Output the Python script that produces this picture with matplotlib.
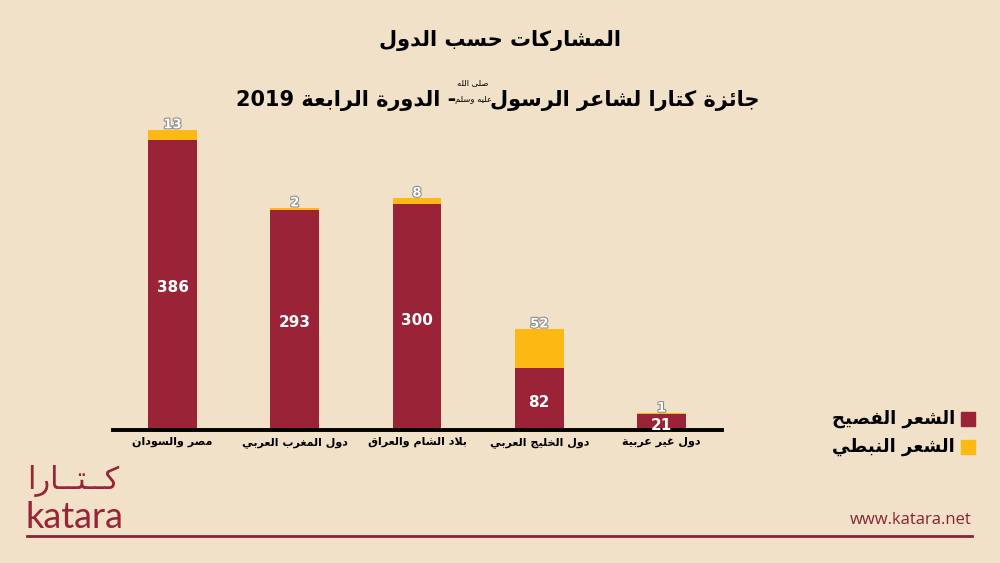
import re
import numpy as np
import matplotlib
matplotlib.use('Agg')
import matplotlib.pyplot as plt
import matplotlib.patheffects as pe

# simple arabic shaping (presentation forms) since matplotlib has no bidi/shaping
FORMS = {
    'ء': (0xFE80, 1), 'ئ': (0xFE89, 4), 'ا': (0xFE8D, 2), 'ب': (0xFE8F, 4),
    'ة': (0xFE93, 2), 'ت': (0xFE95, 4), 'ج': (0xFE9D, 4), 'ح': (0xFEA1, 4),
    'خ': (0xFEA5, 4), 'د': (0xFEA9, 2), 'ر': (0xFEAD, 2), 'ز': (0xFEAF, 2),
    'س': (0xFEB1, 4), 'ش': (0xFEB5, 4), 'ص': (0xFEB9, 4), 'ط': (0xFEC1, 4),
    'ع': (0xFEC9, 4), 'غ': (0xFECD, 4), 'ف': (0xFED1, 4), 'ق': (0xFED5, 4),
    'ك': (0xFED9, 4), 'ل': (0xFEDD, 4), 'م': (0xFEE1, 4), 'ن': (0xFEE5, 4),
    'ه': (0xFEE9, 4), 'و': (0xFEED, 2), 'ى': (0xFEEF, 2), 'ي': (0xFEF1, 4),
}
TATWEEL = 'ـ'

def ar(text):
    chars = []
    i = 0
    while i < len(text):
        if text[i] == 'ل' and i + 1 < len(text) and text[i + 1] == 'ا':
            chars.append('LA')
            i += 2
        else:
            chars.append(text[i])
            i += 1
    out = []
    for k, c in enumerate(chars):
        prev = chars[k - 1] if k > 0 else None
        nxt = chars[k + 1] if k + 1 < len(chars) else None
        jp = prev == TATWEEL or (prev in FORMS and FORMS[prev][1] == 4)
        if c == 'LA':
            out.append(chr(0xFEFC if jp else 0xFEFB))
            continue
        if c not in FORMS:
            out.append(c)
            continue
        base, n = FORMS[c]
        jn = n == 4 and (nxt in ('LA', TATWEEL) or (nxt in FORMS and FORMS[nxt][1] > 1))
        if n == 1:
            idx = 0
        elif n == 2:
            idx = 1 if jp else 0
        else:
            idx = [[0, 2], [1, 3]][jp][jn]
        out.append(chr(base + idx))
    s = ''.join(out)[::-1]
    return re.sub(r'[0-9]+', lambda m: m.group(0)[::-1], s)

# data
categories = ['مصر والسودان', 'دول المغرب العربي', 'بلاد الشام والعراق', 'دول الخليج العربي', 'دول غير عربية']
fusha = [386, 293, 300, 82, 21]
nabati = [13, 2, 8, 52, 1]
series_names = ['الشعر الفصيح', 'الشعر النبطي']

RED = '#9B2338'
YEL = '#FDB913'
BG = '#F0E1C8'
FAM = ['DejaVu Sans', 'Noto Sans', 'Liberation Sans']

fig = plt.figure(figsize=(10, 5.63), dpi=100)
fig.patch.set_facecolor(BG)

ax = fig.add_axes([0.113, 0.2362, 0.609, 0.5613])
ax.set_facecolor('none')
x = np.arange(len(categories))
ax.bar(x, fusha, width=0.4, color=RED, zorder=2)
ax.bar(x, nabati, width=0.4, bottom=fusha, color=YEL, zorder=2)
ax.set_xlim(-0.487, 4.495)
ax.set_ylim(0, 420.3)

for i in range(len(x)):
    ax.text(x[i], fusha[i] / 2 - 4, str(fusha[i]), ha='center', va='center',
            color='white', fontsize=11, fontweight='bold', family=FAM, zorder=3)
    ax.text(x[i], fusha[i] + nabati[i] + 7, str(nabati[i]), ha='center', va='center',
            color='white', fontsize=9.5, fontweight='bold', family=FAM, zorder=3,
            path_effects=[pe.withStroke(linewidth=1.5, foreground='#8a8a8a')])

for s in ['top', 'right', 'left']:
    ax.spines[s].set_visible(False)
ax.spines['bottom'].set_linewidth(2.8)
ax.spines['bottom'].set_color('black')
ax.set_yticks([])
ax.set_xticks(x)
ax.set_xticklabels([ar(c) for c in categories], fontsize=8, fontweight='bold', family=FAM)
ax.tick_params(axis='x', length=0, pad=5)

# titles
fig.text(0.5, 0.928, ar('المشاركات حسب الدول'), ha='center', va='center',
         fontsize=15, fontweight='bold', family=FAM)
fig.text(0.456, 0.822, ar('- الدورة الرابعة 2019'), ha='right', va='center',
         fontsize=15, fontweight='bold', family=FAM)
fig.text(0.490, 0.822, ar('جائزة كتارا لشاعر الرسول'), ha='left', va='center',
         fontsize=15, fontweight='bold', family=FAM)
# salla allahu alayhi wa sallam (no installed font has U+FDFA)
fig.text(0.473, 0.853, ar('صلى الله'), ha='center', va='center',
         fontsize=6, family=FAM)
fig.text(0.473, 0.824, ar('عليه وسلم'), ha='center', va='center',
         fontsize=6, family=FAM)

# legend
for j, (name, col) in enumerate(zip(series_names, [RED, YEL])):
    yy = 1 - (419 + 28 * j) / 563
    fig.patches.append(plt.Rectangle((0.961, yy - 0.0125), 0.014, 0.025, color=col,
                                     transform=fig.transFigure, figure=fig))
    fig.text(0.955, yy, ar(name), ha='right', va='center', fontsize=13,
             fontweight='bold', family=FAM)

# logo + footer
fig.text(0.027, 1 - 489 / 563, ar('كــتــارا'), ha='left', va='baseline', fontsize=22,
         color=RED, family=FAM)
fig.text(0.025, 1 - 528 / 563, 'katara', ha='left', va='baseline', fontsize=26,
         color=RED, family=['Lato', 'DejaVu Sans'])
fig.text(0.972, 1 - 520 / 563, 'www.katara.net', ha='right', va='center', fontsize=12,
         color='#8B2332', family=['Open Sans', 'DejaVu Sans'])
fig.add_artist(plt.Line2D([0.027, 0.972], [1 - 536 / 563] * 2, color='#8B2332', lw=2,
                          transform=fig.transFigure))

fig.savefig('out.png', dpi=100, facecolor=BG)
